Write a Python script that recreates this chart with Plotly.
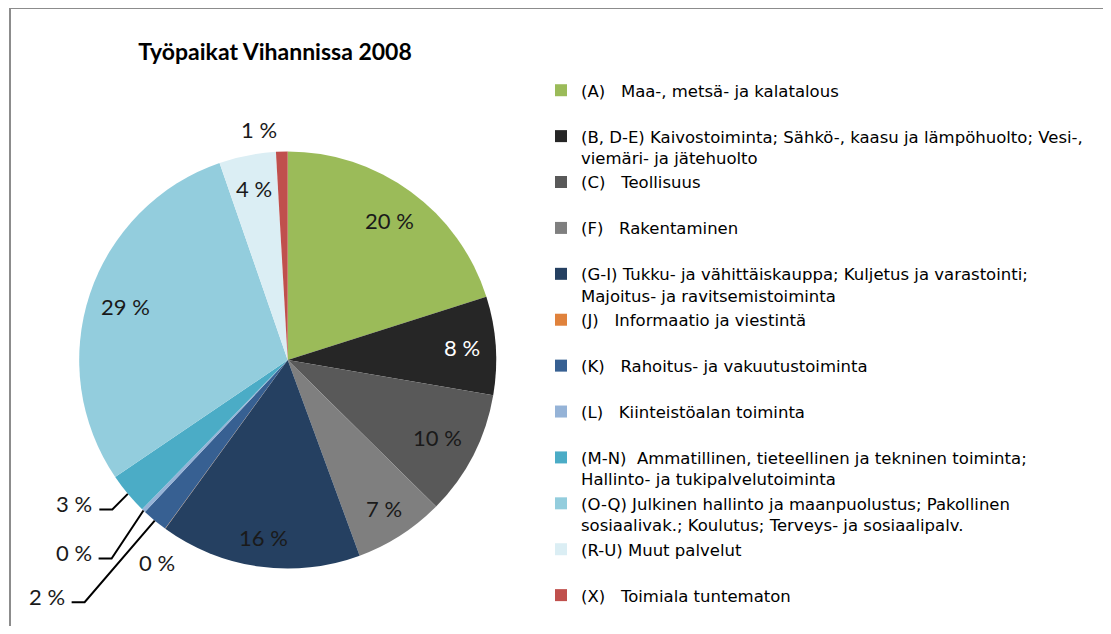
import math
import plotly.graph_objects as go

# ---------------- data ----------------
codes = ["(A)", "(B, D-E)", "(C)", "(F)", "(G-I)", "(J)", "(K)", "(L)",
         "(M-N)", "(O-Q)", "(R-U)", "(X)"]
names = [
    "Maa-, metsä- ja kalatalous",
    "Kaivostoiminta; Sähkö-, kaasu ja lämpöhuolto; Vesi-,<br>viemäri- ja jätehuolto",
    "Teollisuus",
    "Rakentaminen",
    "Tukku- ja vähittäiskauppa; Kuljetus ja varastointi;<br>Majoitus- ja ravitsemistoiminta",
    "Informaatio ja viestintä",
    "Rahoitus- ja vakuutustoiminta",
    "Kiinteistöalan toiminta",
    "Ammatillinen, tieteellinen ja tekninen toiminta;<br>Hallinto- ja tukipalvelutoiminta",
    "Julkinen hallinto ja maanpuolustus; Pakollinen<br>sosiaalivak.; Koulutus; Terveys- ja sosiaalipalv.",
    "Muut palvelut",
    "Toimiala tuntematon",
]
shares = [20.1, 7.6, 9.7, 7.0, 15.6, 0.02, 2.0, 0.3, 3.2, 29.2, 4.4, 0.9]
title_text = "Työpaikat Vihannissa 2008"

# ---------------- styles ----------------
colors = ["#9BBB59", "#262626", "#595959", "#7F7F7F", "#254061", "#E0823C",
          "#376092", "#95B3D7", "#4BACC6", "#93CDDD", "#DBEEF4", "#C0504D"]
label_gaps = [3, 1, 3, 3, 1, 3, 3, 3, 2, 1, 1, 3]
# label placement: (kind, radius factor, extra)
#   in/free: extra = x shift px ; leader: extra = elbow angle offset (deg)
placement = [("in", 0.83, 0), ("in", 0.84, 0), ("in", 0.81, 0), ("in", 0.85, 0),
             ("in", 0.86, 0), ("free", 1.2, 16), ("leader", 1.516, 0.35),
             ("leader", 1.273, -2.2), ("leader", 1.105, -0.5),
             ("in", 0.82, 0), ("in", 0.84, 0), ("top", 1.03, 0)]
label_colors = ["#1a1a1a"] * 12
label_colors[1] = "#ffffff"

FONT = "Lato"
LEGEND_FONT = "DejaVu Sans"
# page geometry (body margin 8px)
OX, OY, W, H = 8, 8, 1095, 618
CX, CY, R = 287.7, 360.0, 208.5


def px2x(px):
    return (px - OX) / W


def py2y(py):
    return 1 - (py - OY) / H


legend_labels = []
for i, (c, n, g) in enumerate(zip(codes, names, label_gaps)):
    lab = c + "\u00a0" * g + n
    if "<br>" not in n and i < len(codes) - 1:
        lab += "<br>\u00a0"
    legend_labels.append(lab)

fig = go.Figure()
fig.add_trace(go.Pie(
    labels=legend_labels,
    values=shares,
    sort=False,
    direction="clockwise",
    rotation=0,
    marker=dict(colors=colors, line=dict(width=0)),
    textinfo="none",
    hoverinfo="label+percent",
    domain=dict(x=[px2x(CX - R), px2x(CX + R)], y=[py2y(CY + R), py2y(CY - R)]),
))

# label annotations & leader lines computed from the data
total = sum(shares)
annotations = []
shapes = []
cum = 0.0
for i, v in enumerate(shares):
    a0 = cum / total * 360
    cum += v
    a1 = cum / total * 360
    mid_deg = (a0 + a1) / 2
    mid = math.radians(mid_deg)
    sx, sy = math.sin(mid), -math.cos(mid)
    txt = f"{v:.0f}\u00a0%"
    kind, f, extra = placement[i]
    lf = dict(family=FONT, size=22, color=label_colors[i])
    if kind in ("in", "free"):
        px, py = CX + R * f * sx + extra, CY + R * f * sy
        annotations.append(dict(x=px2x(px), y=py2y(py), xref="paper", yref="paper",
                                xanchor="center", yanchor="middle",
                                text=txt, showarrow=False, font=lf))
    elif kind == "top":
        px, py = CX + R * f * sx, CY + R * f * sy
        annotations.append(dict(x=px2x(px - 3), y=py2y(py), xref="paper", yref="paper",
                                text=txt, showarrow=False, xanchor="right", yanchor="bottom",
                                font=lf))
    else:
        ex, ey = CX + R * sx, CY + R * sy
        ea = math.radians(mid_deg + extra)
        bx, by = CX + R * f * math.sin(ea), CY - R * f * math.cos(ea)
        hx = bx - 13
        shapes.append(dict(type="path", xref="paper", yref="paper",
                           path=f"M {px2x(ex)},{py2y(ey)} L {px2x(bx)},{py2y(by)} L {px2x(hx)},{py2y(by)}",
                           line=dict(color="#000000", width=2)))
        annotations.append(dict(x=px2x(hx - 5), y=py2y(by - 6), xref="paper", yref="paper",
                                text=txt, showarrow=False, xanchor="right", yanchor="middle",
                                font=lf))

# chart frame (left and top edges visible)
shapes.append(dict(type="rect", xref="paper", yref="paper",
                   x0=px2x(10), x1=px2x(1130), y0=py2y(650), y1=py2y(8),
                   line=dict(color="#8C8C8C", width=2), layer="below"))

fig.update_layout(
    width=W, height=H,
    margin=dict(l=0, r=0, t=0, b=0, autoexpand=False),
    paper_bgcolor="white",
    plot_bgcolor="white",
    font=dict(family=FONT, color="#000000"),
    title=dict(text="<b>" + title_text + "</b>", x=px2x(275), y=py2y(52),
               xanchor="center", yanchor="middle", xref="paper", yref="paper",
               font=dict(family=FONT, size=23, color="#000000")),
    legend=dict(x=px2x(541), y=py2y(73), xanchor="left", yanchor="top",
                valign="top", font=dict(family=LEGEND_FONT, size=16.5, color="#000000"),
                bgcolor="rgba(0,0,0,0)", borderwidth=0, traceorder="normal"),
    showlegend=True,
    annotations=annotations,
    shapes=shapes,
)

fig.write_html("out.html")
